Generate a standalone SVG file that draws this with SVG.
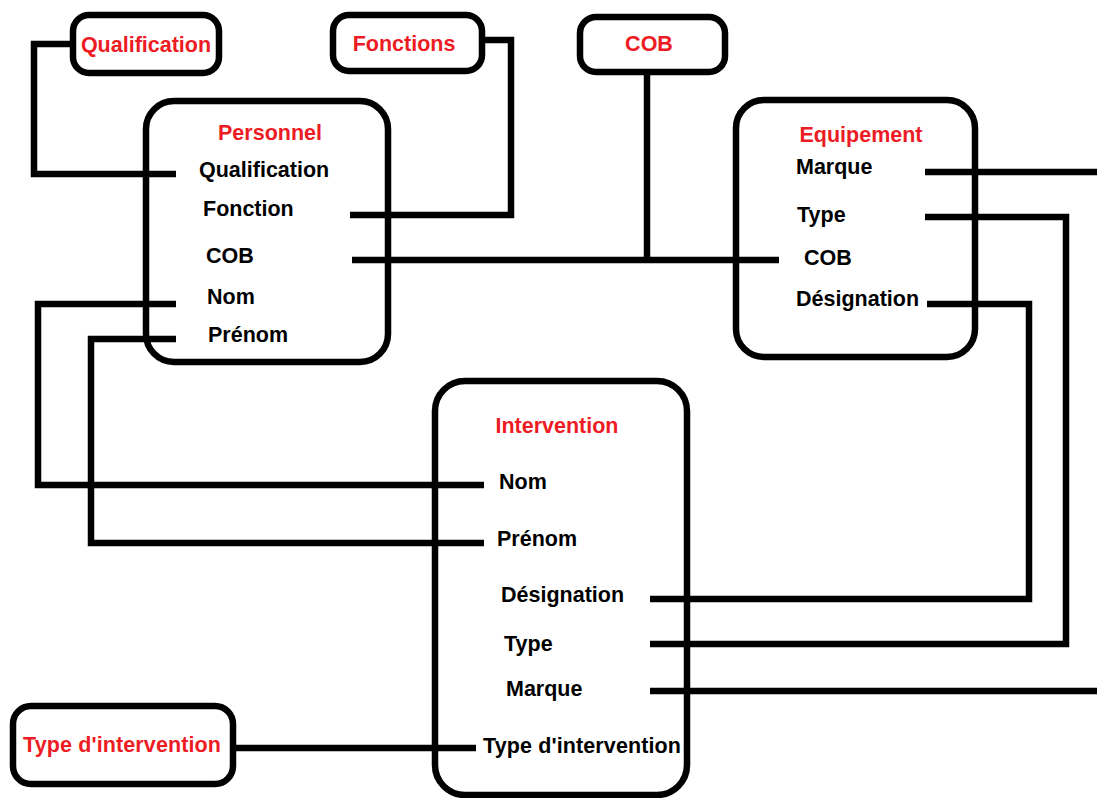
<svg xmlns="http://www.w3.org/2000/svg" width="1097" height="798" viewBox="0 0 1097 798">
<style>
.box{fill:#ffffff;stroke:#000000;stroke-width:6.5}
.ln{fill:none;stroke:#000000;stroke-width:6.5;stroke-linejoin:miter;stroke-linecap:butt}
.t{font-family:"Liberation Sans",Arial,sans-serif;font-weight:bold;font-size:21.5px;fill:#000000}
.r{fill:#ed1c24}
.m{text-anchor:middle}
</style>
<rect width="1097" height="798" fill="#ffffff"/>
<g id="node-qualification">
<rect class="box" x="73" y="15" width="146" height="58" rx="16"/>
<text class="t r m" x="146" y="52">Qualification</text>
</g>
<g id="node-fonctions">
<rect class="box" x="333" y="15" width="149" height="56" rx="16"/>
<text class="t r m" x="404" y="51">Fonctions</text>
</g>
<g id="node-cob">
<rect class="box" x="580" y="17" width="145" height="55" rx="16"/>
<text class="t r m" x="649" y="51">COB</text>
</g>
<g id="node-personnel">
<rect class="box" x="146" y="101" width="242" height="261" rx="28"/>
<text class="t r m" x="270" y="140">Personnel</text>
<text class="t" x="199" y="177">Qualification</text>
<text class="t" x="203" y="216">Fonction</text>
<text class="t" x="206" y="263">COB</text>
<text class="t" x="207" y="304">Nom</text>
<text class="t" x="208" y="342">Prénom</text>
</g>
<g id="node-equipement">
<rect class="box" x="736" y="100" width="239" height="257" rx="28"/>
<text class="t r m" x="861" y="142">Equipement</text>
<text class="t" x="796" y="174">Marque</text>
<text class="t" x="797" y="222">Type</text>
<text class="t" x="804" y="265">COB</text>
<text class="t" x="796" y="306">Désignation</text>
</g>
<g id="node-intervention">
<rect class="box" x="435" y="381" width="252" height="414" rx="30"/>
<text class="t r m" x="557" y="433">Intervention</text>
<text class="t" x="499" y="489">Nom</text>
<text class="t" x="497" y="546">Prénom</text>
<text class="t" x="501" y="602">Désignation</text>
<text class="t" x="504" y="651">Type</text>
<text class="t" x="506" y="696">Marque</text>
<text class="t" x="483" y="753" textLength="198">Type d'intervention</text>
</g>
<g id="node-type-intervention">
<rect class="box" x="13" y="706" width="220" height="78" rx="18"/>
<text class="t r" x="23" y="752" textLength="198">Type d'intervention</text>
</g>
<g id="connectors">
<path class="ln" d="M72,44 H34 V174 H176"/>
<path class="ln" d="M483,40 H511 V215 H350"/>
<path class="ln" d="M352,260 H779"/>
<path class="ln" d="M647,73 V260"/>
<path class="ln" d="M176,304 H38 V485 H484"/>
<path class="ln" d="M176,339 H91 V543 H484"/>
<path class="ln" d="M233,748 H476"/>
<path class="ln" d="M925,172 H1097"/>
<path class="ln" d="M650,691 H1097"/>
<path class="ln" d="M925,217 H1066 V644 H650"/>
<path class="ln" d="M927,304 H1029 V599 H650"/>
</g>
</svg>
